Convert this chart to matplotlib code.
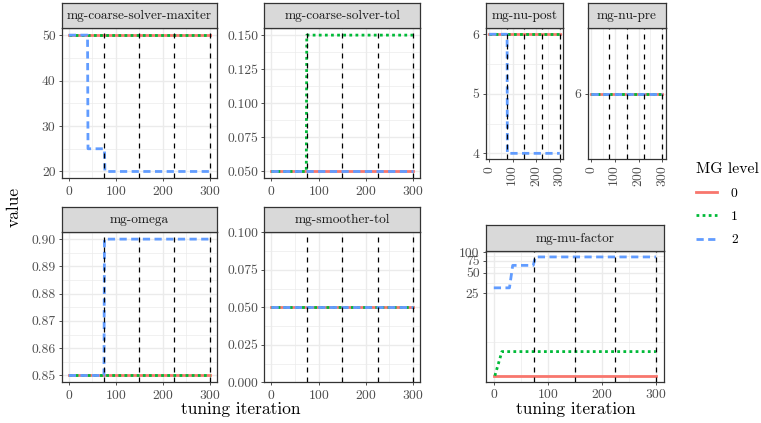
import matplotlib
matplotlib.use("Agg")
import matplotlib.pyplot as plt
from matplotlib.ticker import FixedLocator, FixedFormatter, NullFormatter
from matplotlib.lines import Line2D

plt.rcParams['font.family'] = ['cmr10', 'DejaVu Serif']
plt.rcParams['axes.unicode_minus'] = False
plt.rcParams['axes.formatter.use_mathtext'] = True

# --- data: breakpoints (tuning iteration, value) per MG level 0, 1, 2 ---
LEVELS = ['0', '1', '2']
CHECKPOINTS = [75, 150, 225, 300]

maxiter_iter = [[0, 300], [0, 300], [0, 40, 41, 76, 77, 300]]
maxiter_val = [[50, 50], [50, 50], [50, 50, 25, 25, 20, 20]]

coarse_tol_iter = [[0, 300], [0, 74, 75, 300], [0, 300]]
coarse_tol_val = [[0.05, 0.05], [0.05, 0.05, 0.15, 0.15], [0.05, 0.05]]

nu_post_iter = [[0, 300], [0, 300], [0, 76, 77, 300]]
nu_post_val = [[6, 6], [6, 6], [6, 6, 4, 4]]

nu_pre_iter = [[0, 300], [0, 300], [0, 300]]
nu_pre_val = [[6, 6], [6, 6], [6, 6]]

omega_iter = [[0, 300], [0, 300], [0, 75, 76, 300]]
omega_val = [[0.85, 0.85], [0.85, 0.85], [0.85, 0.85, 0.90, 0.90]]

smoother_tol_iter = [[0, 300], [0, 300], [0, 300]]
smoother_tol_val = [[0.05, 0.05], [0.05, 0.05], [0.05, 0.05]]

mu_iter = [[0, 300], [2, 15, 300], [0, 29, 35, 73, 77, 300]]
mu_val = [[1.55, 1.55], [1.55, 3.5, 3.5], [30, 30, 64, 64, 85, 85]]

# --- style ---
COLORS = ['#F8766D', '#00BA38', '#619CFF']
STYLES = ['-', (0, (1.0, 1.2)), (0, (2.6, 1.6))]
GRID = '#EBEBEB'
FRAME = '#333333'
TICKC = '#4D4D4D'
TICK_FS = 9.8
STRIP_FS = 9.6
TITLE_FS = 12.5

W, H = 761, 423


def box(x0, y0, x1, y1):
    return [x0 / W, 1 - y1 / H, (x1 - x0) / W, (y1 - y0) / H]


fig = plt.figure(figsize=(W / 100, H / 100), dpi=100)


def panel(title, iters, vals, rect, strip_h=25.6, yticks=None, yminor=None,
          ylim=None, rotate_x=False, fmt=None):
    x0, y0, x1, y1 = rect
    ax = fig.add_axes(box(x0, y0, x1, y1))
    for k in range(3):
        ax.plot(iters[k], vals[k], color=COLORS[k], linestyle=STYLES[k],
                lw=2.0, zorder=3, label=LEVELS[k])
    for c in CHECKPOINTS:
        ax.axvline(c, color='black', lw=0.9, linestyle=(0, (4, 4)), zorder=4)
    ax.set_xlim(-15, 315)
    if ylim is not None:
        ax.set_ylim(*ylim)
    ax.xaxis.set_major_locator(FixedLocator([0, 100, 200, 300]))
    ax.xaxis.set_minor_locator(FixedLocator([50, 150, 250]))
    if yticks is not None:
        ax.yaxis.set_major_locator(FixedLocator(yticks))
        if fmt is not None:
            ax.yaxis.set_major_formatter(FixedFormatter([fmt.format(t) for t in yticks]))
    ax.yaxis.set_minor_locator(FixedLocator(yminor if yminor else []))
    ax.yaxis.set_minor_formatter(NullFormatter())
    ax.grid(True, which='major', color=GRID, lw=1.0, zorder=0)
    ax.grid(True, which='minor', color=GRID, lw=0.5, zorder=0)
    ax.set_axisbelow(True)
    for s in ax.spines.values():
        s.set_color(FRAME)
        s.set_linewidth(0.9)
    ax.tick_params(which='major', length=2.5, width=0.6, color=FRAME,
                   labelcolor=TICKC, labelsize=TICK_FS, pad=2)
    ax.tick_params(which='minor', length=0)
    if rotate_x:
        ax.tick_params(axis='x', labelrotation=90)

    # facet strip
    st = fig.add_axes(box(x0, y0 - strip_h, x1, y0))
    st.set_facecolor('#D9D9D9')
    st.set_xticks([])
    st.set_yticks([])
    for s in st.spines.values():
        s.set_color(FRAME)
        s.set_linewidth(0.9)
    st.text(0.5, 0.48, title, ha='center', va='center', fontsize=STRIP_FS,
            color='#1A1A1A', transform=st.transAxes)
    return ax


panel('mg-coarse-solver-maxiter', maxiter_iter, maxiter_val,
      (61.7, 28.3, 216.7, 178.3), ylim=(18.5, 51.5),
      yticks=[20, 30, 40, 50], yminor=[25, 35, 45], fmt='{:.0f}')
panel('mg-coarse-solver-tol', coarse_tol_iter, coarse_tol_val,
      (264.3, 28.3, 420, 178.3), ylim=(0.045, 0.155),
      yticks=[0.05, 0.075, 0.1, 0.125, 0.15],
      yminor=[0.0625, 0.0875, 0.1125, 0.1375], fmt='{:.3f}')
panel('mg-nu-post', nu_post_iter, nu_post_val,
      (485.7, 28.3, 563.3, 159.3), ylim=(3.9, 6.1),
      yticks=[4, 5, 6], yminor=[4.5, 5.5], fmt='{:.0f}', rotate_x=True)
panel('mg-nu-pre', nu_pre_iter, nu_pre_val,
      (587.7, 28.3, 665.7, 159.3), ylim=(5.5, 6.5),
      yticks=[6], fmt='{:.0f}', rotate_x=True)
panel('mg-omega', omega_iter, omega_val,
      (61.7, 232.3, 216.7, 382.3), ylim=(0.8475, 0.9025),
      yticks=[0.85, 0.86, 0.87, 0.88, 0.89, 0.90],
      yminor=[0.855, 0.865, 0.875, 0.885, 0.895], fmt='{:.2f}')
panel('mg-smoother-tol', smoother_tol_iter, smoother_tol_val,
      (264.3, 232.3, 420, 382.3), ylim=(0.0, 0.1),
      yticks=[0.0, 0.025, 0.05, 0.075, 0.1],
      yminor=[0.0125, 0.0375, 0.0625, 0.0875], fmt='{:.3f}')

mu_ax = panel('mg-mu-factor', mu_iter, mu_val, (485.7, 251, 664, 381.7))
mu_ax.set_yscale('log')
mu_ax.margins(y=0.05)
mu_ax.yaxis.set_major_locator(FixedLocator([25, 50, 75, 100]))
mu_ax.yaxis.set_major_formatter(FixedFormatter(['25', '50', '75', '100']))
mu_ax.yaxis.set_minor_locator(FixedLocator([4.8, 35, 61, 88]))
mu_ax.yaxis.set_minor_formatter(NullFormatter())
mu_ax.tick_params(which='minor', length=0)

# axis titles
fig.text(14 / W, 1 - 207 / H, 'value', rotation=90, ha='center', va='center',
         fontsize=TITLE_FS)
fig.text(240.5 / W, 1 - 409 / H, 'tuning iteration', ha='center',
         va='center', fontsize=TITLE_FS)
fig.text(575.5 / W, 1 - 409 / H, 'tuning iteration', ha='center',
         va='center', fontsize=TITLE_FS)

# legend
handles = [Line2D([], [], color=COLORS[k], linestyle=STYLES[k], lw=2.0)
           for k in range(3)]
leg = fig.legend(handles, LEVELS, title='MG level', loc='upper left',
                 bbox_to_anchor=(686 / W, 1 - 153 / H), frameon=False,
                 fontsize=TICK_FS, title_fontsize=11.3, handlelength=1.6,
                 handletextpad=1.0, labelspacing=0.8, borderpad=0.2)
leg._legend_box.align = 'left'

fig.savefig('out.png', dpi=100)
